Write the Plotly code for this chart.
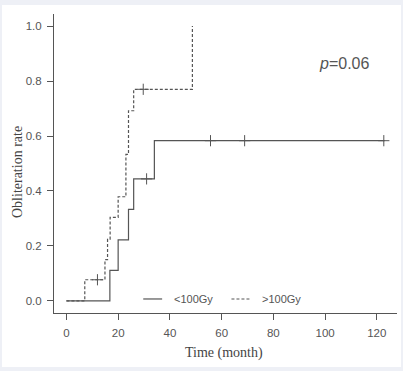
import plotly.graph_objects as go

# Solid group (<100Gy): step times and survival-curve levels
low_times = [0, 16.8, 20.0, 24.0, 26.0, 34.0, 123.0]
low_levels = [0.0, 0.111, 0.222, 0.333, 0.444, 0.583, 0.583]
low_censor_t = [31.0, 55.7, 68.9, 122.7]
low_censor_y = [0.444, 0.583, 0.583, 0.583]

# Dashed group (>100Gy)
high_times = [0, 7.1, 14.9, 15.9, 16.9, 20.0, 23.0, 24.0, 26.0, 48.7]
high_levels = [0.0, 0.077, 0.150, 0.225, 0.304, 0.379, 0.533, 0.692, 0.770, 1.0]
high_censor_t = [12.0, 29.7]
high_censor_y = [0.077, 0.770]

x_ticks = [0, 20, 40, 60, 80, 100, 120]
y_ticks = [0.0, 0.2, 0.4, 0.6, 0.8, 1.0]
y_tick_labels = ["0.0", "0.2", "0.4", "0.6", "0.8", "1.0"]

LINE = "#555555"
TXT = "#555555"

fig = go.Figure()
fig.add_trace(go.Scatter(x=low_times, y=low_levels, mode="lines", line_shape="hv",
                         line=dict(color=LINE, width=1.2), showlegend=False))
fig.add_trace(go.Scatter(x=high_times, y=high_levels, mode="lines", line_shape="hv",
                         line=dict(color=LINE, width=1.2, dash="3px,2px"), showlegend=False))
fig.add_trace(go.Scatter(x=low_censor_t, y=low_censor_y, mode="markers",
                         marker=dict(symbol="cross-thin", size=8, line=dict(color=LINE, width=1)),
                         showlegend=False))
fig.add_trace(go.Scatter(x=high_censor_t, y=high_censor_y, mode="markers",
                         marker=dict(symbol="cross-thin", size=8, line=dict(color=LINE, width=1)),
                         showlegend=False))

# white panel over light background
fig.add_shape(type="rect", xref="paper", yref="paper", x0=-0.1516, x1=1.0117,
              y0=-0.1806, y1=1.0301, fillcolor="white", line=dict(width=0), layer="below")

# legend drawn inside plot
fig.add_shape(type="line", xref="x", yref="y", x0=29.7, x1=37.0, y0=0.007, y1=0.007,
              line=dict(color=LINE, width=1.2))
fig.add_annotation(x=41.0, y=0.007, xref="x", yref="y", text="&lt;100Gy", showarrow=False,
                   xanchor="left", yanchor="middle", font=dict(size=11, color=TXT, family="Liberation Sans"))
fig.add_shape(type="line", xref="x", yref="y", x0=63.8, x1=71.2, y0=0.007, y1=0.007,
              line=dict(color=LINE, width=1.2, dash="3px,2px"))
fig.add_annotation(x=75.0, y=0.007, xref="x", yref="y", text="&gt;100Gy", showarrow=False,
                   xanchor="left", yanchor="middle", font=dict(size=11, color=TXT, family="Liberation Sans"))

fig.add_annotation(x=96.8, y=0.865, xref="x", yref="y", text="<i>p</i>=0.06", showarrow=False,
                   xanchor="left", yanchor="middle", font=dict(size=16, color=TXT, family="Liberation Sans"))

# axis titles
fig.add_annotation(x=(224 - 54) / 343, y=(313 - 353) / 299, xref="paper", yref="paper",
                   text="Time (month)", showarrow=False, xanchor="center", yanchor="middle",
                   font=dict(size=14, color="#444444", family="Liberation Serif"))
fig.add_annotation(x=(17 - 54) / 343, y=(313 - 172) / 299, xref="paper", yref="paper",
                   text="Obliteration rate", showarrow=False, textangle=-90,
                   xanchor="center", yanchor="middle",
                   font=dict(size=14, color="#444444", family="Liberation Serif"))

fig.update_layout(
    width=403, height=371,
    margin=dict(l=54, r=6, t=14, b=58),
    paper_bgcolor="#eef0f6", plot_bgcolor="white",
    xaxis=dict(range=[-4.8, 127.8], tickvals=x_ticks, showgrid=False, zeroline=False,
               automargin=False, showline=True, linecolor=LINE, linewidth=1, ticks="outside",
               ticklen=6, tickcolor=LINE, ticklabelstandoff=3,
               tickfont=dict(size=11.5, color=TXT, family="Liberation Sans")),
    yaxis=dict(range=[-0.044, 1.044], tickvals=y_ticks, ticktext=y_tick_labels, showgrid=False,
               automargin=False, zeroline=False, showline=True, linecolor=LINE, linewidth=1,
               ticks="outside", ticklen=6, tickcolor=LINE, ticklabelstandoff=3,
               tickfont=dict(size=11.5, color=TXT, family="Liberation Sans")),
)

fig.write_html("out.html", config={"displayModeBar": False},
               post_script="document.body.style.margin='0px';document.body.style.padding='0px';document.body.style.background='#eef0f6';")
